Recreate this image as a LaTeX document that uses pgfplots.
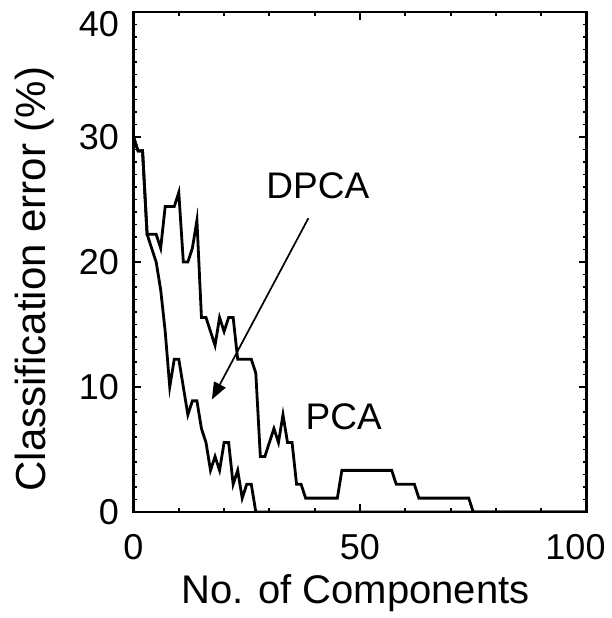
\documentclass[border=0pt]{standalone}
\usepackage{pgfplots}
\pgfplotsset{compat=1.18}
\usepackage{fontspec}
\setmainfont{Liberation Sans}
\usetikzlibrary{arrows.meta}
\begin{document}
\begin{tikzpicture}
\begin{axis}[
  at={(0,0)}, anchor=south west,
  scale only axis, width=453bp, height=500bp,
  xmin=0, xmax=100, ymin=0, ymax=40,
  xtick={0,50,100}, minor xtick={10,20,30,40,60,70,80,90},
  xticklabels={0,50,\kern-22bp 100},
  ytick={0,10,20,30,40}, minor y tick num=9,
  yticklabels={0,10,20,30,\raisebox{-12bp}[\height][\depth]{40}},
  tick align=inside, xtick pos=both, ytick pos=both,
  xticklabel pos=bottom, yticklabel pos=left,
  major tick length=8bp, minor tick length=4bp,
  every tick/.style={black, line width=1.8bp},
  axis line style={line width=2.6bp},
  ticklabel style={font=\fontsize{36bp}{42bp}\selectfont},
  xticklabel style={yshift=-19bp},
  yticklabel style={xshift=-11bp},
  xlabel={No. of Components},
  ylabel={Classification error (\%)},
  xlabel style={font=\fontsize{40bp}{48bp}\selectfont, at={(axis description cs:0.49,-0.182)}, anchor=base},
  ylabel style={font=\fontsize{42bp}{50bp}\selectfont, at={(axis description cs:-0.1943,0.466)}, anchor=base},
]
% PCA (upper curve)
\addplot[black, line width=2.8bp] coordinates {
(0,30) (1,28.89) (2,28.89) (3,22.22) (4,22.22) (5,22.22) (6,21.11) (7,24.44) (8,24.44) (9,24.44)
(10,25.56) (11,20) (12,20) (13,21.11) (14,23.33) (15,15.56) (16,15.56) (17,14.44) (18,13.33) (19,15.56)
(20,14.44) (21,15.56) (22,15.56) (23,12.22) (24,12.22) (25,12.22) (26,12.22) (27,11.11) (28,4.44) (29,4.44)
(30,5.56) (31,6.67) (32,5.56) (33,7.78) (34,5.56) (35,5.56) (36,2.22) (37,2.22) (38,1.11) (45,1.11)
(46,3.33) (57,3.33) (58,2.22) (62,2.22) (63,1.11) (74,1.11) (75,0) (100,0)
};
% DPCA (lower curve)
\addplot[black, line width=2.8bp] coordinates {
(0,30) (1,28.89) (2,28.89) (3,22.22) (4,21.11) (5,20) (6,17.78) (7,14.44) (8,10) (9,12.22)
(10,12.22) (11,10) (12,7.78) (13,8.89) (14,8.89) (15,6.67) (16,5.56) (17,3.33) (18,4.44) (19,3.33)
(20,5.56) (21,5.56) (22,2.22) (23,3.33) (24,1.11) (25,2.22) (26,2.22) (27,0) (100,0)
};
\node[font=\fontsize{37bp}{44bp}\selectfont] at (axis cs:40.7,26.1) {DPCA};
\node[font=\fontsize{37bp}{44bp}\selectfont] at (axis cs:46.4,7.6) {PCA};
\draw[line width=1.7bp, -{Triangle[length=17bp,width=13bp]}] (axis cs:38.6,23.5) -- (axis cs:17.3,9.0);
\end{axis}
\pgfresetboundingbox
\path[use as bounding box] (-133.5bp,-106bp) rectangle (478.5bp,512bp);
\end{tikzpicture}
\end{document}
